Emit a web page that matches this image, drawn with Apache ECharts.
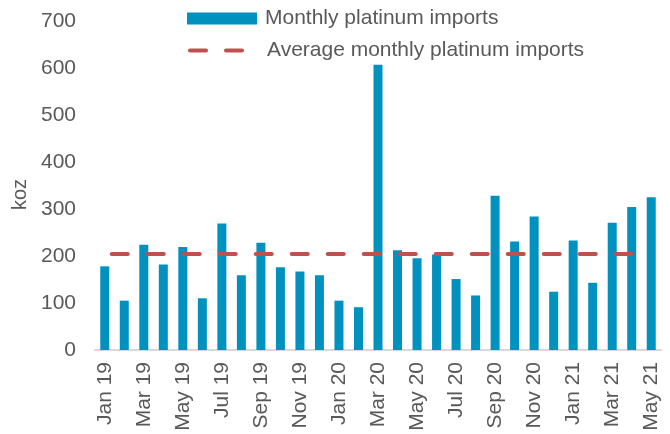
<!DOCTYPE html>
<html>
<head>
<meta charset="utf-8">
<script src="https://cdn.jsdelivr.net/npm/echarts@6/dist/echarts.min.js"></script>
<style>
html,body{margin:0;padding:0;background:#fff;}
#chart{width:670px;height:434px;}
</style>
</head>
<body>
<div id="chart"></div>
<script>
const categories = ['Jan 19','Feb 19','Mar 19','Apr 19','May 19','Jun 19','Jul 19','Aug 19','Sep 19','Oct 19','Nov 19','Dec 19',
  'Jan 20','Feb 20','Mar 20','Apr 20','May 20','Jun 20','Jul 20','Aug 20','Sep 20','Oct 20','Nov 20','Dec 20',
  'Jan 21','Feb 21','Mar 21','Apr 21','May 21'];
const monthlyImports = [178,105,224,182,219,110,269,159,228,176,167,159,
  105,91,607,212,195,203,151,116,328,231,284,124,
  233,143,271,304,325];
const averageImports = [204,204,204,204,204,204,204,204,204,204,204,204,
  204,204,204,204,204,204,204,204,204,204,204,204,
  204,204,204,204,204];
const yTicks = [0,100,200,300,400,500,600,700];

const font = 'Liberation Sans, Arial, sans-serif';
const gray = '#595959';
const chart = echarts.init(document.getElementById('chart'));
chart.setOption({
  animation: false,
  textStyle: {fontFamily: font},
  legend: [
    {
      left: 187, top: 8, padding: 0, orient: 'vertical',
      itemWidth: 70, itemHeight: 12,
      data: [{name: 'Monthly platinum imports', icon: 'rect'}],
      textStyle: {fontSize: 21, color: gray, fontFamily: font, padding: [0,0,0,3]}
    },
    {
      left: 188, top: 40, padding: 0, orient: 'vertical',
      itemWidth: 52, itemHeight: 12,
      data: [{
        name: 'Average monthly platinum imports',
        itemStyle: {opacity: 0},
        lineStyle: {color: '#C0504D', width: 4, type: [16, 20], dashOffset: 0, cap: 'round'}
      }],
      textStyle: {fontSize: 21, color: gray, fontFamily: font, padding: [0,0,0,20]}
    }
  ],
  grid: {left: 95, right: 9, top: 21, bottom: 84},
  xAxis: {
    type: 'category',
    data: categories,
    boundaryGap: true,
    axisLine: {show: true, lineStyle: {color: '#D9D9D9', width: 2}},
    axisTick: {show: false},
    axisLabel: {rotate: 90, interval: 1, fontSize: 21, color: gray, fontFamily: font, margin: 12}
  },
  yAxis: {
    type: 'value',
    min: yTicks[0], max: yTicks[yTicks.length-1], interval: 100,
    name: 'koz', nameLocation: 'middle', nameRotate: 90, nameGap: 65,
    nameTextStyle: {fontSize: 20, color: gray, fontFamily: font, padding: [0,18,0,0]},
    axisLine: {show: false},
    axisTick: {show: false},
    splitLine: {show: false},
    axisLabel: {fontSize: 21, color: gray, fontFamily: font, margin: 19}
  },
  series: [
    {
      name: 'Monthly platinum imports',
      type: 'bar',
      data: monthlyImports,
      barWidth: 9,
      itemStyle: {color: '#0091BE'}
    },
    {
      name: 'Average monthly platinum imports',
      type: 'line',
      data: averageImports,
      symbol: 'none',
      itemStyle: {color: '#C0504D'},
      lineStyle: {color: '#C0504D', width: 4, type: [16, 20], dashOffset: 29, cap: 'round'},
      z: 3
    }
  ]
});
</script>
</body>
</html>
